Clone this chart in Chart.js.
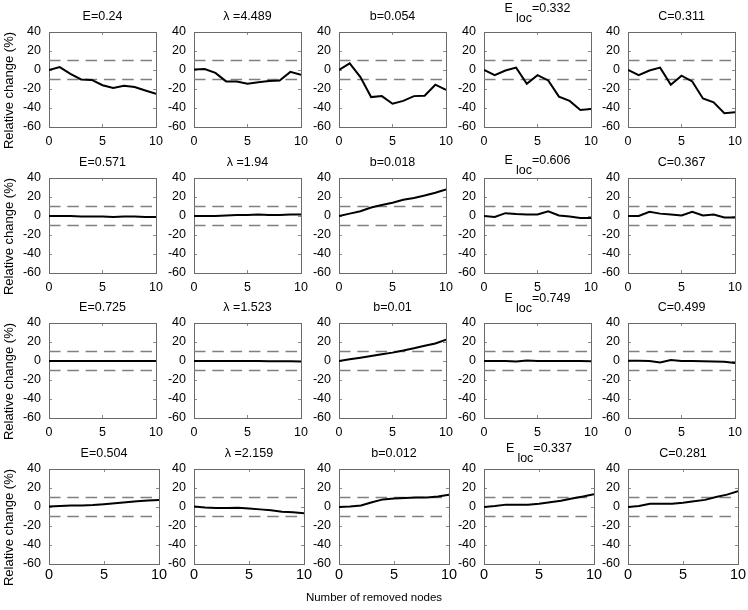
<!DOCTYPE html>
<html><head><meta charset="utf-8">
<script src="https://cdn.jsdelivr.net/npm/chart.js@4/dist/chart.umd.min.js"></script>
<style>
html,body{margin:0;padding:0;background:#fff;}
#wrap{position:relative;width:748px;height:610px;overflow:hidden;background:#fff;}
#wrap canvas{position:absolute;}
</style></head><body><div id="wrap"></div>
<script>
// ---------- data ----------
const removedNodes = [0,1,2,3,4,5,6,7,8,9,10];
const xTickValues = [0,5,10];
const yTickValues = [-60,-40,-20,0,20,40];
const thresholdValues = [10,-10];
const metricSymbols = ['E','λ ','b','E','C'];
const metricSubscripts = ['','','','loc',''];
const baselineRow1 = ['0.24','4.489','0.054','0.332','0.311'];
const baselineRow2 = ['0.571','1.94','0.018','0.606','0.367'];
const baselineRow3 = ['0.725','1.523','0.01','0.749','0.499'];
const baselineRow4 = ['0.504','2.159','0.012','0.337','0.281'];

const row1E      = [0, 3, -4, -10, -10.5, -16, -19, -16.5, -18, -21.5, -25];
const row1Lambda = [0.5, 1, -3, -12, -12, -14.5, -13, -11.5, -11, -2, -5];
const row1B      = [0, 7, -7.5, -28.5, -27.5, -35.5, -32.5, -27.5, -27, -15.5, -21];
const row1Eloc   = [0, -5.5, -0.5, 2.5, -14.5, -5.5, -11, -28, -32.5, -42, -41];
const row1C      = [0, -5.5, -0.5, 2.5, -15.5, -6, -12, -30, -34, -45.5, -44.5];

const row2E      = [0, 0, 0, -0.5, -0.5, -0.5, -1, -0.5, -0.5, -1, -1];
const row2Lambda = [0, 0, 0, 0.5, 1, 1, 1.5, 1, 1, 1.5, 1.5];
const row2B      = [0, 2.5, 5, 9, 11.5, 14, 17, 19, 21.5, 24.5, 28];
const row2Eloc   = [0, -1, 3, 2, 1.5, 1.5, 5, 0.5, -0.5, -2, -2];
const row2C      = [0, 0, 4.5, 2.5, 1.5, 0.5, 4.5, 0.5, 1.5, -1.5, -1.5];

const row3E      = [0, 0, 0, 0, 0, 0, 0, 0, 0, 0, 0];
const row3Lambda = [0, 0, 0, 0, 0, 0, 0, -0.2, -0.3, -0.3, -0.5];
const row3B      = [0, 1.8, 3.5, 5.2, 7, 8.8, 11, 13.5, 16, 18.5, 22.5];
const row3Eloc   = [0, 0, 0, -0.5, 0.5, 0, 0, 0, 0, 0, -0.3];
const row3C      = [0.3, 0.3, 0, -1.5, 1, 0, 0, -0.3, -0.5, -0.7, -2];

const row4E      = [0.5, 1, 1.5, 1.5, 2, 3, 4, 5, 6, 6.8, 7.5];
const row4Lambda = [0.5, -0.5, -1, -1, -0.7, -1.5, -2.5, -3.5, -5, -5.5, -6.5];
const row4B      = [0, 0.5, 1.5, 5, 8, 9, 9.5, 10, 10, 11, 13];
const row4Eloc   = [0, 1, 2.5, 2.5, 2.5, 3.5, 5, 6.5, 9, 11, 13.5];
const row4C      = [0, 1, 3.5, 3.5, 3.5, 4.5, 6, 7.5, 10.5, 13, 16.5];

const yAxisLabel = 'Relative change (%)';
const xAxisLabel = 'Number of removed nodes';

// ---------- layout ----------
const rowsSeries = [
  [row1E,row1Lambda,row1B,row1Eloc,row1C],
  [row2E,row2Lambda,row2B,row2Eloc,row2C],
  [row3E,row3Lambda,row3B,row3Eloc,row3C],
  [row4E,row4Lambda,row4B,row4Eloc,row4C]
];
const rowsBaseline = [baselineRow1,baselineRow2,baselineRow3,baselineRow4];
const colLeft = [49,194,339,484,628];
const rowTop = [32,178,323,469];
const plotW = 110, plotH = 95;
const topPad = 32, rightPad = 14;
const elocMainOff = [20,14,21,17];
const FONT = "'Liberation Sans', Arial, Helvetica, sans-serif";
const FRAME = '#6a6a6a';
const TICKIN = -3;

Chart.defaults.font.family = FONT;
Chart.defaults.color = '#000';

const decoPlugin = {
  id: 'deco',
  afterDraw(chart, args, o) {
    const ctx = chart.ctx, a = chart.chartArea;
    ctx.save();
    ctx.fillStyle = '#000';
    ctx.font = '12.5px ' + FONT;
    ctx.textBaseline = 'alphabetic';
    const cx = (a.left + a.right) / 2;
    if (o.sub) {
      const wMain = ctx.measureText(o.symbol).width;
      const wSub = ctx.measureText(o.sub).width;
      const rest = '=' + o.value;
      const wRest = ctx.measureText(rest).width;
      const gap = 3;
      const total = wMain + gap + wSub + wRest;
      const x0 = cx - total / 2;
      const yMain = a.top - o.mainOff;
      ctx.textAlign = 'left';
      ctx.fillText(o.symbol, x0, yMain);
      ctx.fillText(o.sub, x0 + wMain + gap, yMain + 10);
      ctx.fillText(rest, x0 + wMain + gap + wSub, yMain);
    } else {
      ctx.textAlign = 'center';
      ctx.fillText(o.symbol + '=' + o.value, cx, a.top - 12);
    }
    if (o.yLabel) {
      ctx.save();
      ctx.font = '13px ' + FONT;
      ctx.translate(9, (a.top + a.bottom) / 2 + 11);
      ctx.rotate(-Math.PI / 2);
      ctx.textAlign = 'center'; ctx.textBaseline = 'middle';
      ctx.fillText(o.yLabel, 0, 0);
      ctx.restore();
    }
    if (o.xLabel) {
      ctx.font = '11.5px ' + FONT;
      ctx.textAlign = 'center'; ctx.textBaseline = 'middle';
      ctx.fillText(o.xLabel, o.xLabelX - o.canvasLeft, 598 - o.canvasTop);
    }
    ctx.restore();
  }
};

function frameAxis(pos, isX, extra) {
  return Object.assign({
    type: 'linear', position: pos,
    min: isX ? 0 : -60, max: isX ? 10 : 40,
    grid: {display: true, drawOnChartArea: false, drawTicks: true, tickLength: TICKIN, color: '#8a8a8a', lineWidth: 1},
    border: {display: true, color: FRAME, width: 1},
    afterBuildTicks: s => { s.ticks = (isX ? xTickValues : yTickValues).map(v => ({value: v})); }
  }, extra);
}

const wrap = document.getElementById('wrap');
rowsSeries.forEach((rowData, r) => {
  rowData.forEach((series, c) => {
    const yW = c === 0 ? 49 : 40;
    const xH = r === 3 ? 45 : 24;
    const L = colLeft[c], T = rowTop[r];
    const cv = document.createElement('canvas');
    const w = yW + plotW + rightPad, h = topPad + plotH + xH;
    const cl = L - yW, ct = T - topPad;
    cv.width = w; cv.height = h;
    cv.style.left = cl + 'px'; cv.style.top = ct + 'px';
    cv.style.width = w + 'px'; cv.style.height = h + 'px';
    wrap.appendChild(cv);
    const datasets = [{
      data: removedNodes.map((x, i) => ({x, y: series[i]})),
      borderColor: '#000', borderWidth: 2, pointRadius: 0, tension: 0, fill: false,
      xAxisID: 'x', yAxisID: 'y'
    }];
    thresholdValues.forEach(t => datasets.push({
      data: [{x: removedNodes[0], y: t}, {x: removedNodes[removedNodes.length - 1], y: t}],
      borderColor: '#808080', borderWidth: 1.5, borderDash: [11.5, 6.8], pointRadius: 0, fill: false,
      xAxisID: 'x', yAxisID: 'y'
    }));
    new Chart(cv, {
      type: 'line',
      data: {datasets},
      options: {
        responsive: false, animation: false, devicePixelRatio: 1,
        layout: {padding: {left: 0, top: topPad, right: rightPad, bottom: 0}},
        plugins: {
          legend: {display: false}, tooltip: {enabled: false}, title: {display: false},
          deco: {
            symbol: metricSymbols[c], sub: metricSubscripts[c], value: rowsBaseline[r][c],
            mainOff: elocMainOff[r],
            yLabel: c === 0 ? yAxisLabel : null,
            xLabel: (r === 3 && c === 2) ? xAxisLabel : null, xLabelX: 374,
            canvasLeft: cl, canvasTop: ct
          }
        },
        scales: {
          x: frameAxis('bottom', true, {
            afterFit: s => { s.height = xH; },
            ticks: {color: '#000', font: {size: r === 3 ? 14.5 : 12.5}, padding: (r === 3 ? 2 : 7) - TICKIN, maxRotation: 0, autoSkip: false}
          }),
          y: frameAxis('left', false, {
            afterFit: s => { s.width = yW; },
            ticks: {color: '#000', font: {size: 12.5}, padding: 8 - TICKIN, autoSkip: false}
          }),
          x2: frameAxis('top', true, {
            afterFit: s => { s.height = 0; },
            ticks: {display: false}
          }),
          y2: frameAxis('right', false, {
            afterFit: s => { s.width = 0; },
            ticks: {display: false}
          })
        }
      },
      plugins: [decoPlugin]
    });
  });
});
</script></body></html>
